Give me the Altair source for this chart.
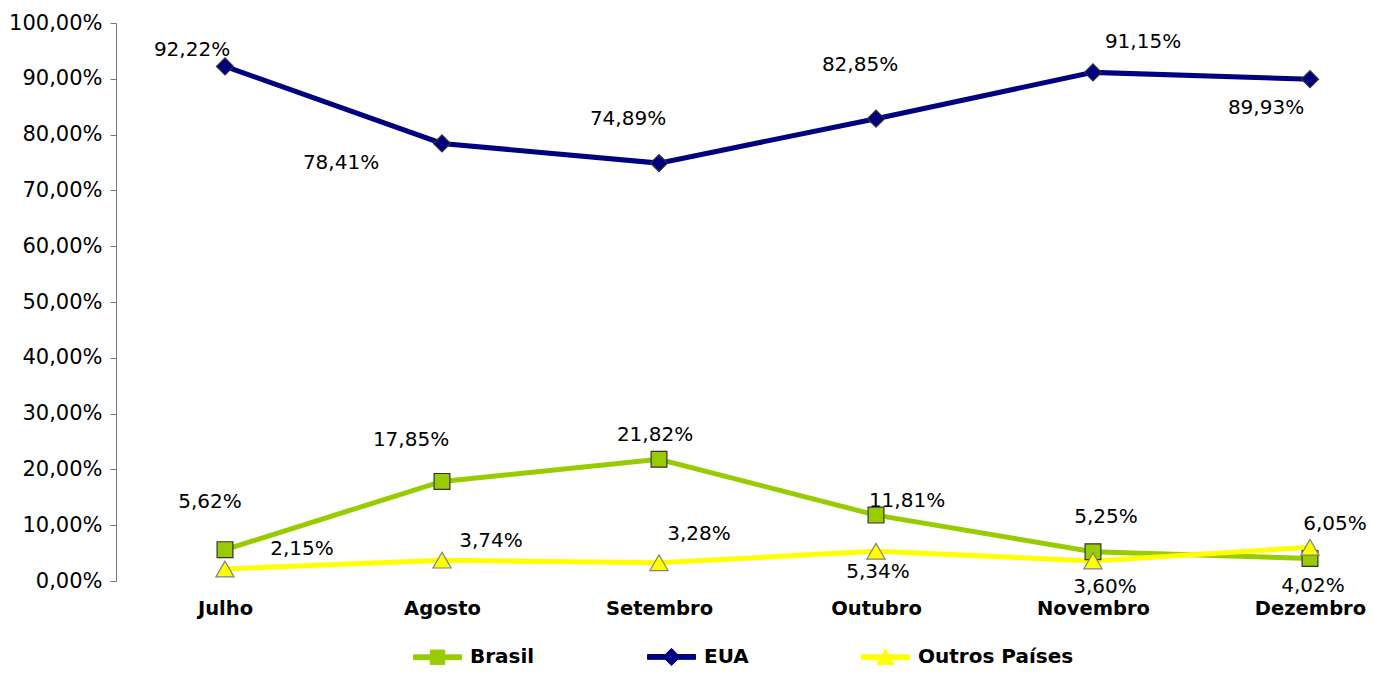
import altair as alt
import pandas as pd

# ---- data ----
meses = ["Julho", "Agosto", "Setembro", "Outubro", "Novembro", "Dezembro"]
series = ["Brasil", "EUA", "Outros Países"]
brasil = [5.62, 17.85, 21.82, 11.81, 5.25, 4.02]
eua = [92.22, 78.41, 74.89, 82.85, 91.15, 89.93]
outros = [2.15, 3.74, 3.28, 5.34, 3.60, 6.05]
y_ticks = [0, 10, 20, 30, 40, 50, 60, 70, 80, 90, 100]

# ---- styles ----
cores = ["#99CC00", "#000080", "#FFFF00"]
contornos = ["#333333", "#333333", "#808080"]
formas = ["square", "diamond", "triangle-up"]
tamanhos = [250, 330, 280]
barra = "M-1,-0.1H1V0.1H-1Z"
formas_legenda = [
    barra + "M-0.3,-0.3H0.3V0.3H-0.3Z",
    barra + "M0,-0.36L0.36,0L0,0.36L-0.36,0Z",
    barra + "M0,-0.34L0.36,0.3H-0.36Z",
]
# label offsets (dx, dy) in pixels, per series and month
deslocamentos = {
    "Brasil": [(-15, -48), (-31, -41), (-4, -24), (31, -14), (13, -35), (3, 27)],
    "EUA": [(-33, -16), (-101, 20), (-31, -44), (-16, -54), (50, -30), (-44, 29)],
    "Outros Países": [(77, -20), (49, -19), (40, -29), (2, 21), (12, 26), (25, -23)],
}

FONT = "DejaVu Sans"

valores = {"Brasil": brasil, "EUA": eua, "Outros Países": outros}
rows = []
for s in series:
    for m, v in zip(meses, valores[s]):
        rows.append({"Serie": s, "Legenda": s, "Mes": m, "Valor": v})
df = pd.DataFrame(rows)

x_enc = alt.X(
    "Mes:N",
    sort=meses,
    scale=alt.Scale(type="point", range=[109, 1194], padding=0),
    axis=alt.Axis(
        title=None, ticks=False, domain=False, labelAngle=0,
        labelFont=FONT, labelFontSize=19.5, labelFontWeight="bold",
        labelColor="black", labelPadding=18,
    ),
)
y_enc = alt.Y(
    "Valor:Q",
    scale=alt.Scale(domain=[0, 100], nice=False),
    axis=alt.Axis(
        title=None, values=y_ticks, grid=False,
        labelExpr="replace(format(datum.value, '.2f'), '.', ',') + '%'",
        labelFont=FONT, labelFontSize=21, labelColor="black",
        labelPadding=8, tickSize=6, tickColor="#777777",
        domainColor="#777777", tickWidth=1, domainWidth=1,
    ),
)

base = alt.Chart(df)

linhas = base.mark_line(strokeWidth=5).encode(
    x=x_enc, y=y_enc,
    color=alt.Color("Serie:N", scale=alt.Scale(domain=series, range=cores), legend=None),
)

pontos = base.mark_point(filled=True, strokeWidth=1.2, opacity=1).encode(
    x=x_enc, y=y_enc,
    fill=alt.Fill("Serie:N", scale=alt.Scale(domain=series, range=cores), legend=None),
    stroke=alt.Stroke("Serie:N", scale=alt.Scale(domain=series, range=contornos), legend=None),
    shape=alt.Shape("Serie:N", scale=alt.Scale(domain=series, range=formas), legend=None),
    size=alt.Size("Serie:N", scale=alt.Scale(domain=series, range=tamanhos), legend=None),
)

leg_props = dict(
    orient="none", legendX=297, legendY=609, direction="horizontal",
    title=None, symbolSize=2304, symbolStrokeWidth=1, symbolOpacity=1,
    labelFont=FONT, labelFontSize=20, labelFontWeight="bold",
    labelColor="black", columnPadding=110, labelOffset=8, padding=0,
)
legenda = base.mark_point(filled=True, opacity=0).encode(
    x=x_enc, y=y_enc,
    fill=alt.Fill("Legenda:N", scale=alt.Scale(domain=series, range=cores),
                  legend=alt.Legend(**leg_props)),
    stroke=alt.Stroke("Legenda:N", scale=alt.Scale(domain=series, range=cores),
                      legend=alt.Legend(**leg_props)),
    shape=alt.Shape("Legenda:N", scale=alt.Scale(domain=series, range=formas_legenda),
                    legend=alt.Legend(**leg_props)),
)

textos = []
for s in series:
    for m, (dx, dy) in zip(meses, deslocamentos[s]):
        t = (
            base.transform_filter((alt.datum.Serie == s) & (alt.datum.Mes == m))
            .transform_calculate(
                rotulo="replace(format(datum.Valor, '.2f'), '.', ',') + '%'"
            )
            .mark_text(font=FONT, fontSize=20, color="black", align="center",
                       baseline="middle", dx=dx, dy=dy)
            .encode(x=x_enc, y=y_enc, text="rotulo:N")
        )
        textos.append(t)

chart = (
    alt.layer(linhas, pontos, legenda, *textos)
    .resolve_scale(fill="independent", stroke="independent", shape="independent")
    .properties(
        width=1250, height=558,
        autosize=alt.AutoSizeParams(type="none"),
        padding={"left": 108, "top": 15, "right": 0, "bottom": 86},
        background="white",
    )
    .configure_view(stroke=None)
)

chart.save("out.html", embed_options={"renderer": "svg", "actions": False})
